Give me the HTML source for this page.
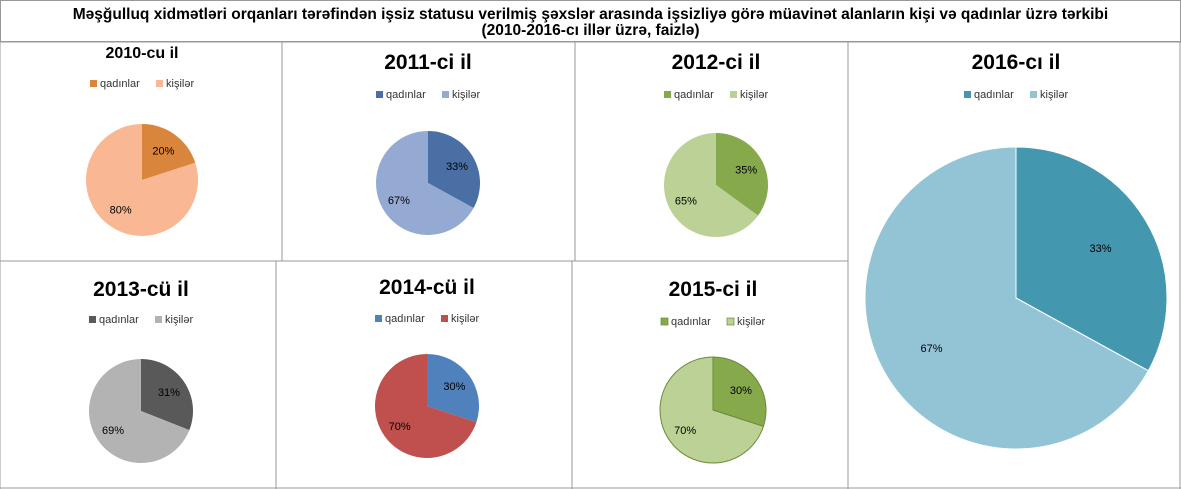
<!DOCTYPE html>
<html><head><meta charset="utf-8">
<style>
body{margin:0;background:#fff;font-family:"Liberation Sans",sans-serif;}
#wrap{position:relative;width:1181px;height:489px;overflow:hidden;}
#title{position:absolute;left:0;top:0;width:1181px;height:42px;text-align:center;font-weight:bold;font-size:15.5px;line-height:16px;padding-top:6px;box-sizing:border-box;border:1px solid #999;}
svg{position:absolute;left:0;top:0;}
</style></head><body>
<div id="wrap">
<div id="title">Məşğulluq xidmətləri orqanları tərəfindən işsiz statusu verilmiş  şəxslər arasında işsizliyə görə müavinət alanların kişi və qadınlar üzrə tərkibi<br>(2010-2016-cı illər üzrə, faizlə)</div>
<svg id="svg" width="1181" height="489"></svg>
</div>
<script>
const years=["2010-cu il","2011-ci il","2012-ci il","2016-cı il","2013-cü il","2014-cü il","2015-ci il"];
const womenPct=[20,33,35,33,31,30,30];
const menPct=[80,67,65,67,69,70,70];
const seriesNames=["qadınlar","kişilər"];
const layout=[
 {cx:142,cy:180,r:56,tx:142,ty:58,ts:16,ly:87,c1:"#D9853B",c2:"#F9B893",st:"none"},
 {cx:428,cy:183,r:52,tx:428,ty:69,ts:21,ly:98,c1:"#4A6FA5",c2:"#95AAD3",st:"none"},
 {cx:716,cy:185,r:52,tx:716,ty:69,ts:21,ly:98,c1:"#86A94B",c2:"#BCD195",st:"none"},
 {cx:1016,cy:298,r:151,tx:1016,ty:69,ts:21,ly:98,c1:"#4397AE",c2:"#93C4D6",st:"#fff"},
 {cx:141,cy:411,r:52,tx:141,ty:296,ts:21,ly:323,c1:"#595959",c2:"#B3B3B3",st:"none"},
 {cx:427,cy:406,r:52,tx:427,ty:294,ts:21,ly:322,c1:"#4F81BD",c2:"#C0504D",st:"none"},
 {cx:713,cy:410,r:53,tx:713,ty:296,ts:21,ly:325,c1:"#86A94B",c2:"#BCD195",st:"#6a8a3a"}
];
const svg=document.getElementById('svg');
const NS="http://www.w3.org/2000/svg";
function mk(t,a){const e=document.createElementNS(NS,t);for(const k in a)e.setAttribute(k,a[k]);svg.appendChild(e);return e;}
[[0,42,1181,42],[0,42,0,489],[282,42,282,261],[575,42,575,261],[848,42,848,489],[1180,42,1180,489],[0,261,848,261],[276,261,276,489],[572,261,572,489],[0,488,1181,488]].forEach(l=>{
 const e=mk('line',{x1:l[0],y1:l[1],x2:l[2],y2:l[3],stroke:'#999','stroke-width':1});
 
 
});
function pt(cx,cy,r,f){const a=f*2*Math.PI-Math.PI/2;return [cx+r*Math.cos(a),cy+r*Math.sin(a)];}
function arc(cx,cy,r,f0,f1){const p0=pt(cx,cy,r,f0),p1=pt(cx,cy,r,f1);const lg=(f1-f0)>0.5?1:0;
 return `M${cx},${cy}L${p0[0]},${p0[1]}A${r},${r} 0 ${lg} 1 ${p1[0]},${p1[1]}Z`;}
layout.forEach((L,i)=>{
 const w=womenPct[i],m=menPct[i],tot=w+m;
 const t=mk('text',{x:L.tx,y:L.ty,'text-anchor':'middle','font-size':L.ts,'font-weight':'bold',fill:'#000'});
 t.textContent=years[i];
 
 
 const lx=L.tx-52;
 [[L.c1,seriesNames[0],lx],[L.c2,seriesNames[1],lx+66]].forEach((g,j)=>{
  const r=mk('rect',{x:g[2],y:L.ly-7,width:7,height:7,fill:g[0],stroke:L.st==="#6a8a3a"?'#6a8a3a':'none','stroke-width':0.7});
  
  
  const tx=mk('text',{x:g[2]+10,y:L.ly,'font-size':11,fill:'#333'});
  tx.textContent=g[1];
  
  
 });
 const f=w/tot;
 const s1=mk('path',{d:arc(L.cx,L.cy,L.r,0,f),fill:L.c1,stroke:L.st,'stroke-width':1});
 
 
 const s2=mk('path',{d:arc(L.cx,L.cy,L.r,f,1),fill:L.c2,stroke:L.st,'stroke-width':1});
 
 
 [[f/2,w],[f+(1-f)/2,m]].forEach(v=>{
  const p=pt(L.cx,L.cy,L.r*0.65,v[0]);
  const lb=mk('text',{x:p[0],y:p[1]+4,'text-anchor':'middle','font-size':11,fill:'#000'});
  lb.textContent=v[1]+'%';
  
  
 });
});
</script>
</body></html>
